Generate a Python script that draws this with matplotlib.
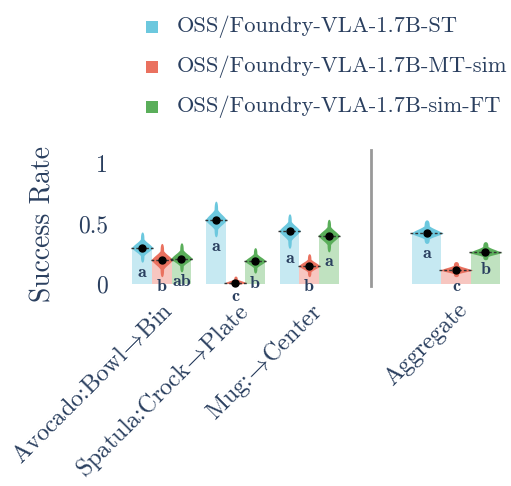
import numpy as np
import matplotlib.pyplot as plt
from matplotlib.lines import Line2D
from matplotlib.patches import Rectangle

plt.rcParams['font.family'] = 'cmr10'
plt.rcParams['mathtext.fontset'] = 'cm'
plt.rcParams['axes.formatter.use_mathtext'] = True
plt.rcParams['axes.unicode_minus'] = False

TXT = '#2a3f5f'

# data
tasks = [r'Avocado:Bowl$\!\rightarrow\!$Bin', r'Spatula:Crock$\!\rightarrow\!$Plate',
         r'Mug:$\!\rightarrow\!$Center']
models = ['OSS/Foundry-VLA-1.7B-ST', 'OSS/Foundry-VLA-1.7B-MT-sim', 'OSS/Foundry-VLA-1.7B-sim-FT']
colors = ['#6cc8de', '#ea715f', '#5aae5a']
bar_colors = ['#c6e9f2', '#f7c6c0', '#c0e2c0']

# rows = models, cols = tasks
means = [[0.30, 0.53, 0.44], [0.20, 0.01, 0.15], [0.21, 0.19, 0.40]]
lows = [[0.18, 0.39, 0.295], [0.06, -0.02, 0.06], [0.10, 0.09, 0.265]]
highs = [[0.43, 0.685, 0.58], [0.335, 0.065, 0.25], [0.34, 0.30, 0.535]]
letters = [['a', 'a', 'a'], ['b', 'c', 'b'], ['ab', 'b', 'a']]

agg_means = [0.42, 0.115, 0.26]
agg_lows = [0.335, 0.06, 0.20]
agg_highs = [0.53, 0.185, 0.35]
agg_letters = ['a', 'c', 'b']

BAR_W = 0.8 / 3


def violin(ax, x, m, lo, hi, color, w=0.152):
    # posterior-like violin: rounded body around the mean, thin tails
    ys = np.linspace(lo, hi, 300)
    d = np.where(ys >= m, (ys - m) / (hi - m), (m - ys) / (m - lo))
    core = 0.15 * np.exp(-d / 0.06) + 0.85 * np.exp(-0.5 * (d / 0.3) ** 2)
    tail = 0.16 * np.sqrt(np.clip(1 - d ** 6, 0, 1))
    hw = w * np.maximum(core, tail)
    ax.fill_betweenx(ys, x - hw, x + hw, color=color, lw=0, clip_on=False, zorder=3)
    ax.plot([x - w, x + w], [m, m], color='#333333', ls=(0, (2, 1.5)), lw=1, zorder=4, clip_on=False)
    ax.plot(x, m, 'o', color='black', ms=5, zorder=5, clip_on=False)


def draw_group(ax, xc, ms, los, his, lets):
    for k in range(3):
        x = xc + (k - 1) * BAR_W
        ax.bar(x, ms[k], width=BAR_W, color=bar_colors[k], lw=0, zorder=2)
        violin(ax, x, ms[k], los[k], his[k], colors[k])
        ax.text(x, los[k] - 0.12, lets[k], ha='center', va='baseline', family='cmb10',
                fontsize=13, color=TXT, zorder=6)


fig = plt.figure(figsize=(5.11, 4.86), dpi=100)
ax1 = fig.add_axes([125 / 511, 190 / 486, 221 / 511, 145 / 486])
ax2 = fig.add_axes([401 / 511, 190 / 486, 110 / 511, 145 / 486])

for j in range(3):
    draw_group(ax1, j, [means[k][j] for k in range(3)], [lows[k][j] for k in range(3)],
               [highs[k][j] for k in range(3)], [letters[k][j] for k in range(3)])
draw_group(ax2, 0, agg_means, agg_lows, agg_highs, agg_letters)

ax1.set_xlim(-0.5, 2.5)
ax2.set_xlim(-0.5, 0.5)
for ax in (ax1, ax2):
    ax.set_ylim(-0.1, 1.1)
    for s in ax.spines.values():
        s.set_visible(False)
    ax.tick_params(length=0, colors=TXT)

ax1.set_yticks([0, 0.5, 1])
ax1.set_yticklabels(['0', '0.5', '1'], fontsize=17, color=TXT)
ax1.tick_params(axis='y', pad=12)
ax2.set_yticks([])

ax1.set_xticks(range(3))
ax1.set_xticklabels(tasks, rotation=45, ha='right', rotation_mode='anchor', fontsize=17.5, color=TXT)
ax2.set_xticks([0])
ax2.set_xticklabels(['Aggregate'], rotation=45, ha='right', rotation_mode='anchor', fontsize=17.5, color=TXT)
ax1.tick_params(axis='x', pad=2)
ax2.tick_params(axis='x', pad=2)

fig.text(43 / 511, 262 / 486, 'Success Rate', rotation=90, ha='center', va='center', fontsize=20, color=TXT)

# separator between tasks and aggregate
fig.add_artist(Line2D([371 / 511, 371 / 511], [200 / 486, 336 / 486], color='#999999', lw=2))

# legend
for i, lab in enumerate(models):
    yc = 486 - (27 + 40 * i)
    fig.add_artist(Rectangle((146 / 511, (yc - 6) / 486), 12 / 511, 12 / 486, color=colors[i], lw=0))
    fig.text(177 / 511, yc / 486, lab, ha='left', va='center', fontsize=16.2, color=TXT)

fig.savefig('out.png', dpi=100)
